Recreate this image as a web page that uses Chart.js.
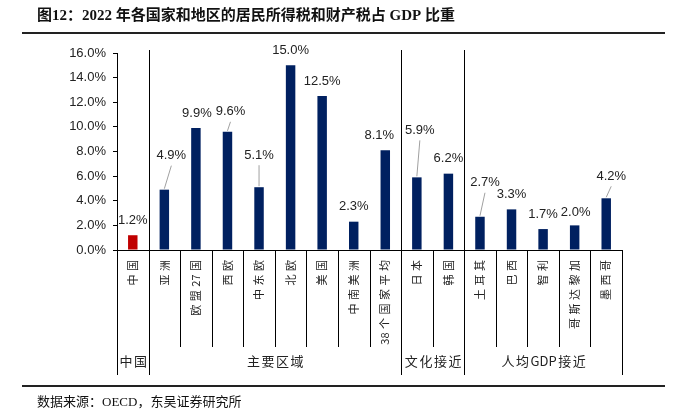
<!DOCTYPE html>
<html>
<head>
<meta charset="utf-8">
<script src="https://cdn.jsdelivr.net/npm/chart.js@4.4.1/dist/chart.umd.min.js"></script>
<style>
  html, body { margin: 0; padding: 0; background: #fff; }
  #wrap { width: 685px; height: 416px; position: relative; }
</style>
</head>
<body>
<div id="wrap"><canvas id="chart" width="685" height="416"></canvas></div>
<script>
const categories = ["中国", "亚洲", "欧盟27国", "西欧", "中东欧", "北欧", "美国", "中南美洲", "38个国家平均",
  "日本", "韩国", "土耳其", "巴西", "智利", "哥斯达黎加", "墨西哥"];
const values = [1.2, 4.9, 9.9, 9.6, 5.1, 15.0, 12.5, 2.3, 8.1, 5.9, 6.2, 2.7, 3.3, 1.7, 2.0, 4.2];
const groupNames = ["中国", "主要区域", "文化接近", "人均GDP接近"];
const groupSizes = [1, 8, 2, 5];
const yTicks = [0, 2, 4, 6, 8, 10, 12, 14, 16];

const titleText = "图12：2022 年各国家和地区的居民所得税和财产税占 GDP 比重";
const sourceText = "数据来源：OECD，东吴证券研究所";

const NUM_FONT = '"Liberation Sans", "Noto Sans CJK SC", sans-serif';
const CJK_FONT = '"Noto Sans CJK SC", sans-serif';

// label nudges (px) and which labels get a leader line
const labelShift = [[0,0],[7,-19],[1,0],[3,-5],[0,-17],[0,0],[0,0],[0,0],[-6,0],[3,-32],[0,0],[5,-19],[0,0],[0,0],[1,2],[5,-7]];
const withLeader = [1, 3, 4, 9, 11, 15];

// split text: each CJK char alone, latin/digit runs kept together
function tokens(text) {
  return text.match(/[A-Za-z0-9.]+|./g);
}

// draws text left-to-right from x, with gap between tokens; returns nothing
function spacedWidth(ctx, text, gap) {
  const t = tokens(text);
  return t.reduce((s, p) => s + ctx.measureText(p).width, 0) + gap * (t.length - 1);
}
function drawSpaced(ctx, text, x, y, gap) {
  let cx = x;
  tokens(text).forEach(p => {
    ctx.fillText(p, cx, y);
    cx += ctx.measureText(p).width + gap;
  });
}

/* ---------- frame: title, rules, category names, separators, groups ---------- */
const framePlugin = {
  id: "frame",
  afterDraw(chart) {
    const ctx = chart.ctx;
    const x = chart.scales.x;
    const area = chart.chartArea;
    const step = (area.right - area.left) / categories.length;
    ctx.save();

    // title
    ctx.fillStyle = "#111";
    ctx.font = 'bold 15px "Liberation Serif", "Noto Sans CJK SC", serif';
    ctx.textBaseline = "middle";
    ctx.textAlign = "left";
    ctx.fillText(titleText, 37, 16);

    // rules
    ctx.fillStyle = "#222";
    ctx.fillRect(22, 32, 643, 2);
    ctx.fillRect(22, 385, 643, 2);

    // source
    ctx.fillStyle = "#111";
    ctx.font = '13px "Liberation Serif", "Noto Sans CJK SC", serif';
    ctx.fillText(sourceText, 37, 403);

    // category names, rotated, spaced out
    ctx.font = "11px " + CJK_FONT;
    ctx.fillStyle = "#222";
    ctx.textAlign = "left";
    ctx.textBaseline = "middle";
    categories.forEach((c, i) => {
      const w = spacedWidth(ctx, c, 3.5);
      ctx.save();
      ctx.translate(x.getPixelForValue(i), area.bottom + 10);
      ctx.rotate(-Math.PI / 2);
      drawSpaced(ctx, c, -w, 0, 3.5);
      ctx.restore();
    });

    // separators between categories (label area)
    ctx.strokeStyle = "#000";
    ctx.lineWidth = 1;
    const labelBottom = 347, groupBottom = 375;
    for (let i = 0; i <= categories.length; i++) {
      const px = Math.round(area.left + i * step) + 0.5;
      ctx.beginPath();
      ctx.moveTo(px, area.bottom);
      ctx.lineTo(px, labelBottom);
      ctx.stroke();
    }

    // group names
    let idx = 0;
    ctx.font = "13px " + CJK_FONT;
    ctx.fillStyle = "#222";
    ctx.textAlign = "left";
    groupNames.forEach((g, gi) => {
      const start = area.left + idx * step;
      idx += groupSizes[gi];
      const end = area.left + idx * step;
      const w = spacedWidth(ctx, g, 1.5);
      drawSpaced(ctx, g, (start + end) / 2 - w / 2 + 0.5, 361, 1.5);
    });

    // group separators
    let cum = 0;
    for (let gi = 0; gi <= groupSizes.length; gi++) {
      const px = Math.round(area.left + cum * step) + 0.5;
      const top = (gi === 0 || gi === groupSizes.length) ? area.bottom : area.top - 3;
      ctx.beginPath();
      ctx.moveTo(px, top);
      ctx.lineTo(px, groupBottom);
      ctx.stroke();
      if (gi < groupSizes.length) cum += groupSizes[gi];
    }

    ctx.restore();
  }
};

/* ---------- value labels ---------- */
const valueLabels = {
  id: "valueLabels",
  afterDatasetsDraw(chart) {
    const ctx = chart.ctx;
    const meta = chart.getDatasetMeta(0);
    ctx.save();
    ctx.font = "13px " + NUM_FONT;
    ctx.fillStyle = "#222";
    ctx.textAlign = "center";
    ctx.textBaseline = "middle";
    meta.data.forEach((bar, i) => {
      const lx = bar.x + labelShift[i][0];
      const ly = bar.y - 15 + labelShift[i][1];
      if (withLeader.includes(i)) {
        ctx.strokeStyle = "#a0a0a0";
        ctx.lineWidth = 1;
        ctx.beginPath();
        ctx.moveTo(bar.x, bar.y - 1);
        ctx.lineTo(lx, ly + 10);
        ctx.stroke();
      }
      ctx.fillText(values[i].toFixed(1) + "%", lx, ly);
    });
    ctx.restore();
  }
};

new Chart(document.getElementById("chart"), {
  type: "bar",
  data: {
    labels: categories,
    datasets: [{
      data: values,
      backgroundColor: values.map((v, i) => i === 0 ? "#C00000" : "#002060"),
      barPercentage: 0.3,
      categoryPercentage: 1.0
    }]
  },
  options: {
    responsive: false,
    animation: false,
    layout: { padding: { top: 53, right: 63, bottom: 41, left: 0 } },
    plugins: {
      legend: { display: false },
      tooltip: { enabled: false }
    },
    scales: {
      x: {
        afterFit(scale) { scale.height = 125; },
        grid: { display: false, drawTicks: false },
        border: { display: true, color: "#000", width: 1 },
        ticks: { display: false, autoSkip: false }
      },
      y: {
        min: 0,
        max: 16,
        afterFit(scale) { scale.width = 117; },
        afterBuildTicks(scale) { scale.ticks = yTicks.map(v => ({ value: v })); },
        grid: { drawOnChartArea: false, drawTicks: true, tickLength: 4, color: "#000" },
        border: { display: true, color: "#000", width: 1 },
        ticks: {
          padding: 7,
          color: "#222",
          font: { family: NUM_FONT, size: 13 },
          callback: v => v.toFixed(1) + "%"
        }
      }
    }
  },
  plugins: [framePlugin, valueLabels]
});
</script>
</body>
</html>
